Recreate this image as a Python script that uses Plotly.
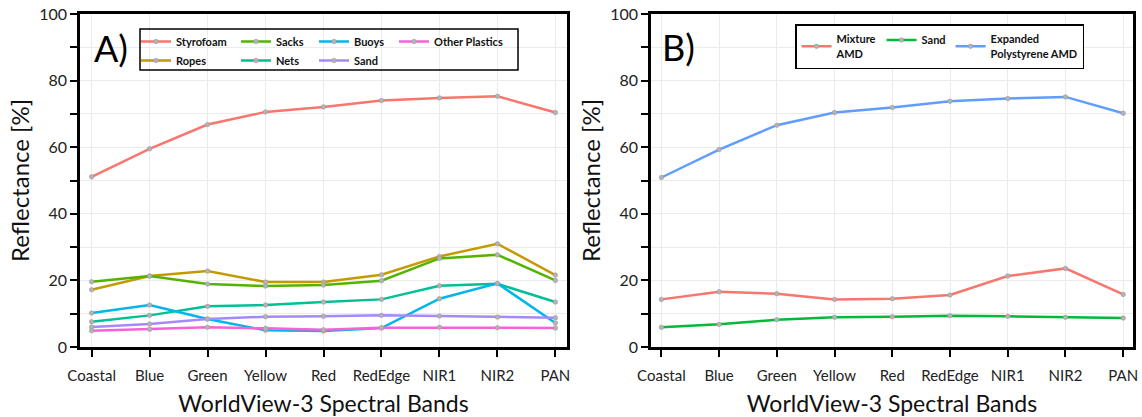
import plotly.graph_objects as go

bands = ["Coastal", "Blue", "Green", "Yellow", "Red", "RedEdge", "NIR1", "NIR2", "PAN"]

# Panel A
styrofoam = [51.1, 59.5, 66.8, 70.6, 72.1, 74.0, 74.8, 75.3, 70.4]
ropes = [17.2, 21.3, 22.8, 19.5, 19.5, 21.7, 27.2, 31.0, 21.6]
sacks = [19.6, 21.3, 18.9, 18.3, 18.6, 19.9, 26.6, 27.7, 20.0]
nets = [7.6, 9.5, 12.2, 12.6, 13.5, 14.3, 18.4, 19.0, 13.5]
buoys = [10.2, 12.6, 8.4, 5.0, 4.8, 5.7, 14.5, 19.1, 7.2]
sand_a = [6.0, 6.9, 8.4, 9.1, 9.2, 9.5, 9.3, 9.0, 8.8]
other_plastics = [4.9, 5.3, 5.9, 5.6, 5.2, 5.8, 5.9, 5.8, 5.7]

# Panel B
mixture_amd = [14.3, 16.6, 16.0, 14.3, 14.5, 15.6, 21.3, 23.6, 15.8]
sand_b = [5.9, 6.8, 8.2, 8.9, 9.1, 9.4, 9.2, 8.9, 8.7]
eps_amd = [50.9, 59.3, 66.6, 70.4, 71.9, 73.8, 74.6, 75.1, 70.2]

series_a = [
    ("Styrofoam", styrofoam, "#F8766D", "legend"),
    ("Ropes", ropes, "#C49A00", "legend"),
    ("Sacks", sacks, "#53B400", "legend2"),
    ("Nets", nets, "#00C094", "legend2"),
    ("Buoys", buoys, "#00B6EB", "legend3"),
    ("Sand", sand_a, "#A58AFF", "legend3"),
    ("Other Plastics", other_plastics, "#FB61D7", "legend4"),
]
series_b = [
    ("Mixture<br>AMD", mixture_amd, "#F8766D"),
    ("Sand", sand_b, "#00BA38"),
    ("Expanded<br>Polystyrene AMD", eps_amd, "#619CFF"),
]

FONT = "Lato, Carlito, Calibri, sans-serif"
MARK = dict(size=4.5, color="#B4B4B4", line=dict(width=0.6, color="#9A9A9A"))

fig = go.Figure()
for name, vals, col, lg in series_a:
    fig.add_trace(go.Scatter(x=bands, y=vals, name=name, mode="lines+markers",
                             line=dict(color=col, width=2.5), marker=MARK,
                             xaxis="x", yaxis="y", legend=lg))
for name, vals, col in series_b:
    fig.add_trace(go.Scatter(x=bands, y=vals, name=name, mode="lines+markers",
                             line=dict(color=col, width=2.5), marker=MARK,
                             xaxis="x2", yaxis="y2", legend="legend5"))

W, H = 1142, 417
ml, mr, mt, mb = 80, 9, 14, 70
pw = W - ml - mr
ph = H - mt - mb


def px(x):
    return (x - ml) / pw


def py(y):
    return (H - mb - y) / ph


xax = dict(
    type="category", range=[-0.2, 8.2], showline=True, mirror=True,
    linecolor="black", linewidth=2.5, ticks="outside", ticklen=7, tickwidth=2,
    tickcolor="black", showgrid=True, gridcolor="#EBEBEB", gridwidth=1,
    tickfont=dict(size=15, color="#222", family=FONT), ticklabelstandoff=6,
    title=dict(text="WorldView-3 Spectral Bands", font=dict(size=23, color="#111", family=FONT), standoff=20),
    zeroline=False, automargin=False,
)
yax = dict(
    range=[0, 100], dtick=20, showline=True, mirror=True, linecolor="black",
    linewidth=2.5, ticks="outside", ticklen=7, tickwidth=2, tickcolor="black",
    showgrid=True, gridcolor="#EBEBEB", gridwidth=1,
    minor=dict(dtick=10, ticks="outside", ticklen=7, tickwidth=2, tickcolor="black",
               showgrid=True, gridcolor="#EBEBEB"),
    tickfont=dict(size=16, color="#222", family=FONT),
    title=dict(text="Reflectance [%]", font=dict(size=24, color="#111", family=FONT), standoff=3),
    zeroline=False, automargin=False,
)

legfont = dict(size=11, color="#111", family=FONT, weight="bold")
leg_common = dict(orientation="v", xanchor="left", yanchor="top", bgcolor="rgba(0,0,0,0)",
                  borderwidth=0, font=legfont, itemwidth=30, tracegroupgap=0)
legtop = py(27)
x0 = 136

fig.update_layout(
    width=W, height=H, margin=dict(l=ml, r=mr, t=mt, b=mb, autoexpand=False),
    paper_bgcolor="white", plot_bgcolor="white",
    xaxis=dict(xax, domain=[0, px(567)], anchor="y"),
    yaxis=dict(yax, domain=[0, 1], anchor="x"),
    xaxis2=dict(xax, domain=[px(651), 1], anchor="y2", range=[-0.18, 8.17]),
    yaxis2=dict(yax, domain=[0, 1], anchor="x2"),
    legend=dict(leg_common, x=px(x0), y=legtop),
    legend2=dict(leg_common, x=px(x0 + 100), y=legtop),
    legend3=dict(leg_common, x=px(x0 + 178), y=legtop),
    legend4=dict(leg_common, x=px(x0 + 258), y=legtop),
    legend5=dict(orientation="h", xanchor="left", yanchor="top", x=px(795), y=py(24),
                 bgcolor="white", bordercolor="black", borderwidth=1.5, font=legfont,
                 itemwidth=30),
    showlegend=True,
    annotations=[
        dict(text="A)", x=px(92), y=py(48), xref="paper", yref="paper", xanchor="left",
             yanchor="middle", showarrow=False, font=dict(size=36, color="black", family=FONT)),
        dict(text="B)", x=px(660), y=py(47), xref="paper", yref="paper", xanchor="left",
             yanchor="middle", showarrow=False, font=dict(size=36, color="black", family=FONT)),
    ],
    shapes=[
        dict(type="rect", xref="paper", yref="paper", x0=px(x0 + 4), x1=px(x0 + 382),
             y0=py(29), y1=py(70), line=dict(color="black", width=1.5)),
    ],
)

fig.write_html("out.html", config={"displayModeBar": False},
               post_script="document.body.style.margin='0';document.body.style.overflow='hidden';")
